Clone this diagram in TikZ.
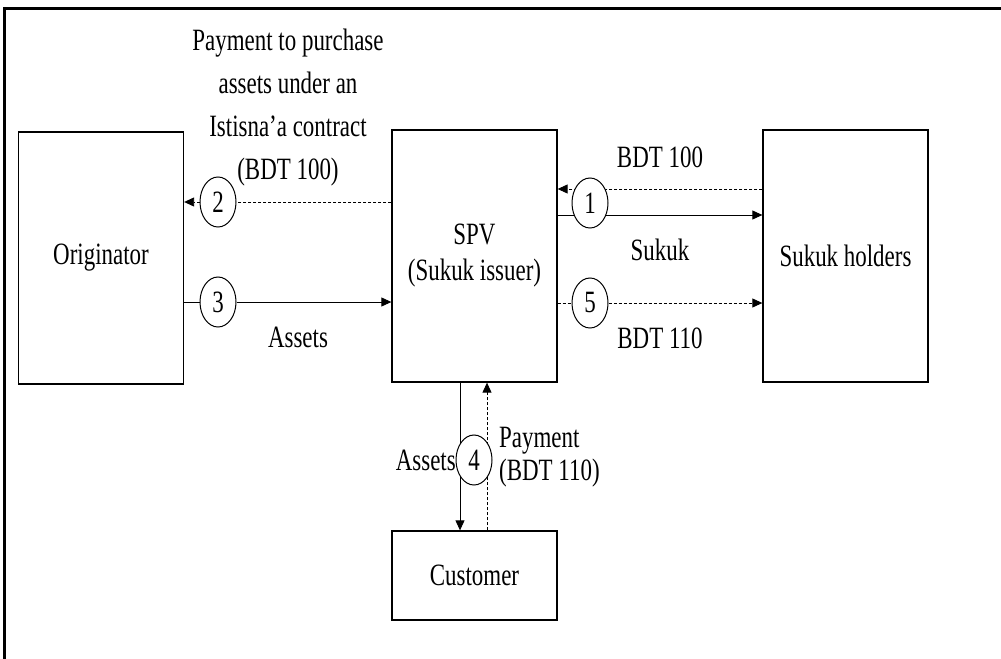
\documentclass[tikz,border=0pt]{standalone}
\usepackage{fontspec}
\setmainfont{Liberation Serif}[FakeStretch=0.74]
\usetikzlibrary{arrows.meta,backgrounds,shapes.geometric}
\begin{document}
\begin{tikzpicture}[x=1bp,y=-1bp,
  box/.style={draw,line width=1.3bp,minimum width=165bp,inner sep=0pt},
  num/.style={draw,fill=white,ellipse,line width=1bp,minimum width=36bp,minimum height=50bp,inner sep=0pt,font=\fontsize{31bp}{32bp}\selectfont},
  lbl/.style={inner sep=0pt,font=\fontsize{31bp}{34bp}\selectfont},
  solidline/.style={line width=0.9bp},
  dashline/.style={line width=0.9bp,dash pattern=on 3bp off 2bp},
  tip/.style={-{Triangle[length=10bp,width=9bp]}}
]
\useasboundingbox (0,0) rectangle (1001,659);
% outer frame (top and left rules)
\draw[line width=3bp] (4,659) -- (4,9) -- (1001,9);

% parties
\node[box,minimum height=252bp,font=\fontsize{31bp}{34bp}\selectfont] (orig) at (101,258) {Originator};
\node[box,minimum height=252bp,align=center,font=\fontsize{31bp}{36bp}\selectfont] (spv) at (474.5,256) {SPV\\(Sukuk issuer)};
\node[box,minimum height=252bp,font=\fontsize{31bp}{34bp}\selectfont] (hold) at (845.5,256) {Sukuk holders};
\node[box,minimum height=89bp,font=\fontsize{31bp}{34bp}\selectfont] (cust) at (474.5,575.5) {Customer};

% step numbers
\node[num] (c1) at (590,203) {1};
\node[num] (c2) at (218,202) {2};
\node[num] (c3) at (218,302) {3};
\node[num] (c4) at (474,460) {4};
\node[num] (c5) at (590,303) {5};

% flows
\begin{pgfonlayer}{background}
\draw[dashline,tip] ([yshift=14bp]hold.west |- c1) -- ([yshift=14bp]spv.east |- c1);
\draw[solidline,tip] ([yshift=-12bp]spv.east |- c1) -- ([yshift=-12bp]hold.west |- c1);
\draw[dashline,tip] (spv.west |- c2) -- (c2) -- (orig.east |- c2);
\draw[solidline,tip] (orig.east |- c3) -- (c3) -- (spv.west |- c3);
\draw[dashline,tip] (spv.east |- c5) -- (c5) -- (hold.west |- c5);
\draw[solidline,tip] ([xshift=-14bp]c4 |- spv.south) -- ([xshift=-14bp]c4 |- cust.north);
\draw[dashline,tip] ([xshift=13bp]c4 |- cust.north) -- ([xshift=13bp]c4 |- spv.south);
\end{pgfonlayer}

% flow labels
\node[lbl,align=center,font=\fontsize{31bp}{43bp}\selectfont] (t2) at (288,108) {Payment to purchase\\assets under an\\Istisna’a contract\\(BDT 100)};
\node[lbl] (t1) at (660,157) {BDT 100};
\node[lbl] (t1b) at (660,250) {Sukuk};
\node[lbl] (t5) at (660,338) {BDT 110};
\node[lbl] (t3) at (298,337) {Assets};
\node[lbl,anchor=east] (t4a) at (456,460) {Assets};
\node[lbl,anchor=west,align=left,font=\fontsize{31bp}{33bp}\selectfont] (t4b) at (499,457) {Payment\\(BDT 110)};
\end{tikzpicture}
\end{document}
